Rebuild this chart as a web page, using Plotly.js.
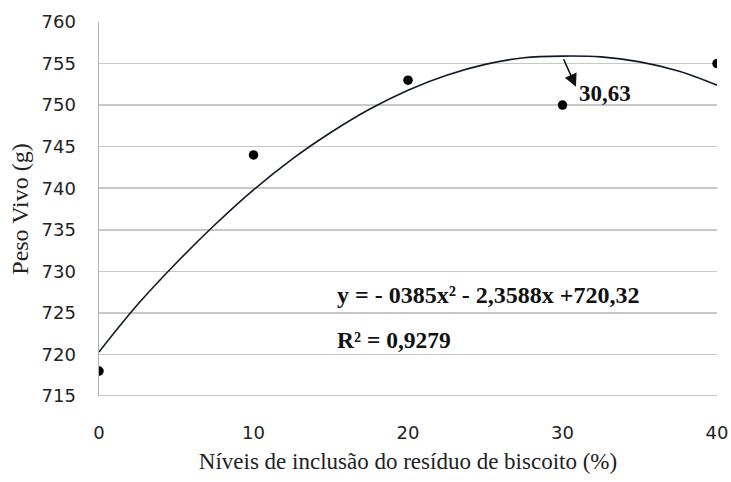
<!DOCTYPE html>
<html>
<head>
<meta charset="utf-8">
<script src="https://cdn.plot.ly/plotly-3.0.1.min.js"></script>
<style>html,body{margin:0;padding:0;background:#fff;}#chart{width:731px;height:482px;}</style>
</head>
<body>
<div id="chart"></div>
<script>
// Observed data points
const levels = [0, 10, 20, 30, 40];
const weights = [718, 744, 753, 750, 755];

// Trendline
const curveX = [0, 2.5, 5, 7.5, 10, 12.5, 15, 17.5, 20, 22.5, 25, 27.5, 30, 32.5, 35, 37.5, 40];
const curveY = [720.3, 726.0, 731.0, 735.6, 739.8, 743.5, 746.7, 749.5, 751.8, 753.6, 754.9, 755.7, 755.9, 755.8, 755.2, 754.1, 752.4];

const xTicks = [0, 10, 20, 30, 40];
const yTicks = [715, 720, 725, 730, 735, 740, 745, 750, 755, 760];

const equationText = "y = - 0385x² - 2,3588x +720,32";
const r2Text = "R² = 0,9279";
const peakText = "30,63";

const serif = "Liberation Serif, Times New Roman, serif";
const sans = "DejaVu Sans, Verdana, sans-serif";

const traces = [
  {
    x: curveX, y: curveY, type: "scatter", mode: "lines",
    line: {color: "#111827", width: 1.6, shape: "spline", smoothing: 1},
    hoverinfo: "skip"
  },
  {
    x: levels, y: weights, type: "scatter", mode: "markers",
    marker: {color: "#000", size: 9.5}
  }
];

const layout = {
  width: 731, height: 482,
  margin: {l: 99, r: 14, t: 22, b: 86},
  paper_bgcolor: "#fff", plot_bgcolor: "#fff",
  showlegend: false,
  xaxis: {
    range: [0, 40], tickvals: xTicks, ticktext: xTicks.map(String),
    showgrid: false, zeroline: false, showline: false, ticks: "",
    ticklabelstandoff: 24,
    tickfont: {family: sans, size: 18, color: "#222"},
    title: {text: "Níveis de inclusão do resíduo de biscoito (%)", font: {family: serif, size: 23, color: "#222"}, standoff: 10}
  },
  yaxis: {
    range: [715, 760], tickvals: yTicks, ticktext: yTicks.map(String),
    showgrid: true, gridcolor: "#c8c8c8", gridwidth: 1.5,
    zeroline: false, showline: true, linecolor: "#b0b0b0", linewidth: 1.5,
    ticks: "", ticklabelstandoff: 18,
    tickfont: {family: sans, size: 18, color: "#222"},
    title: {text: "Peso Vivo (g)", font: {family: serif, size: 24, color: "#222"}, standoff: 6}
  },
  shapes: [
    {type: "line", xref: "x", yref: "y", x0: 0, x1: 40, y0: 715, y1: 715, line: {color: "#b0b0b0", width: 1.5}}
  ],
  annotations: [
    {x: 30.87, y: 752.2, ax: 30.03, ay: 755.7, axref: "x", ayref: "y", xref: "x", yref: "y",
     text: "", showarrow: true, arrowhead: 2, arrowsize: 1.6, arrowwidth: 1.6, arrowcolor: "#111"},
    {x: 30.94, y: 751.34, xref: "x", yref: "y", xanchor: "left", yanchor: "middle",
     text: "<b>" + peakText + "</b>", showarrow: false, font: {family: serif, size: 23, color: "#111"}},
    {x: 15.27, y: 727.15, xref: "x", yref: "y", xanchor: "left", yanchor: "middle",
     text: "<b>" + equationText + "</b>", showarrow: false, font: {family: serif, size: 24, color: "#111"}},
    {x: 15.27, y: 721.73, xref: "x", yref: "y", xanchor: "left", yanchor: "middle",
     text: "<b>" + r2Text + "</b>", showarrow: false, font: {family: serif, size: 23.5, color: "#111"}}
  ]
};

Plotly.newPlot("chart", traces, layout, {staticPlot: true, displayModeBar: false});
</script>
</body>
</html>
